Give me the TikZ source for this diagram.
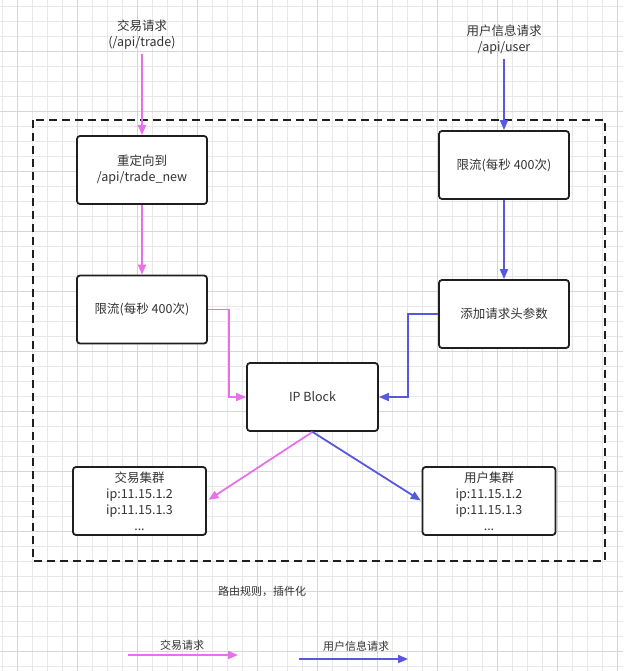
\documentclass[tikz,border=0pt]{standalone}
\usepackage{fontspec}
\usepackage{xcolor}
\usepackage{tikz}
\usetikzlibrary{arrows.meta}
\newfontfamily\cjk{Noto Sans CJK SC}
\definecolor{reqT}{RGB}{232,112,236}
\definecolor{reqU}{RGB}{88,88,222}
\definecolor{txt}{RGB}{51,51,51}

\begin{document}
\begin{tikzpicture}[x=1pt,y=-1pt,font=\cjk\fontsize{12.5}{16}\selectfont,text=txt,gridminor/.style={draw=black!9,line width=0.8},gridmajor/.style={draw=black!16,line width=0.8},box/.style={draw=black!88,line width=1.8,rounded corners=3,fill=white,minimum width=130,minimum height=68,align=center,inner sep=0},lbl/.style={align=center,inner sep=4},small/.style={lbl,font=\cjk\fontsize{11}{14}\selectfont},tip/.style={-{Triangle[length=10pt,width=8pt]},line width=1.8},pk/.style={tip,draw=reqT},bl/.style={tip,draw=reqU},frame/.style={draw=black!88,line width=1.8,dash pattern=on 8pt off 5pt}]
\useasboundingbox (0,0) rectangle (623,671);
\fill[white] (0,0) rectangle (623,671);
\foreach \g in {0,...,41} {
   \draw[gridminor] (2.7+15*\g,0) -- (2.7+15*\g,671);
}
\foreach \g in {0,...,44} {
   \draw[gridminor] (0,6.7+15*\g) -- (623,6.7+15*\g);
}
\foreach \g in {0,...,10} {
   \draw[gridmajor] (17.7+60*\g,0) -- (17.7+60*\g,671);
   \draw[gridmajor] (0,51.7+60*\g) -- (623,51.7+60*\g);
}
\draw[frame] (33,120) rectangle (605,561);
\node[lbl] (srcT) at (142,35) {交易请求\\(/api/trade)};
\node[lbl] (srcU) at (504,40) {用户信息请求\\/api/user};
\node[box] (redirect) at (142,170) {重定向到\\/api/trade\_new};
\node[box] (limitT) at (142,309.5) {限流(每秒 400次)};
\node[box] (limitU) at (504,165) {限流(每秒 400次)};
\node[box] (header) at (504,314) {添加请求头参数};
\node[box,minimum width=131] (ipblock) at (312.5,397) {IP Block};
\node[box,minimum width=133] (clusterT) at (139.5,501) {交易集群\\ip:11.15.1.2\\ip:11.15.1.3\\...};
\node[box,minimum width=133] (clusterU) at (489,501) {用户集群\\ip:11.15.1.2\\ip:11.15.1.3\\...};
\node[small] (caption) at (262,591) {路由规则，插件化};
\draw[pk] (srcT.south) -- (redirect.north);
\draw[pk] (redirect.south) -- (limitT.north);
\draw[pk] (limitT.east) -- ++(21,0) |- (ipblock.west);
\draw[pk,shorten >=2] (ipblock.south) -- (clusterT.east);
\draw[bl] (srcU.south) -- (limitU.north);
\draw[bl] (limitU.south) -- (header.north);
\draw[bl] (header.west) -- ++(-30,0) |- (ipblock.east);
\draw[bl,shorten >=1] (ipblock.south) -- (clusterU.west);
\coordinate (legTa) at (128,655);
\coordinate (legTb) at (238,655);
\coordinate (legUa) at (299,659);
\coordinate (legUb) at (408,659);
\node[small] (legT) at (182,645) {交易请求};
\node[small] (legU) at (356,646) {用户信息请求};
\draw[pk] (legTa) -- (legTb);
\draw[bl] (legUa) -- (legUb);
\end{tikzpicture}
\end{document}
